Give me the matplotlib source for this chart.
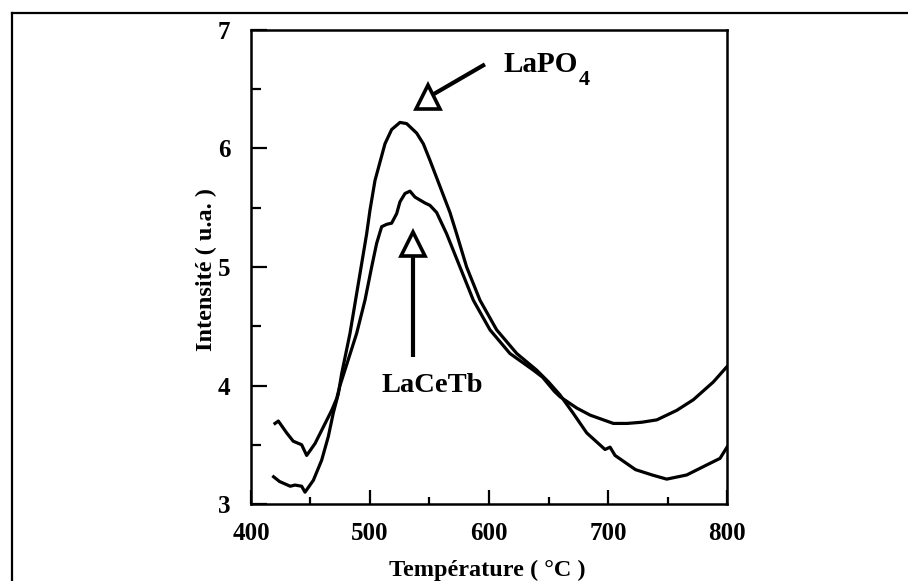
import matplotlib
matplotlib.use('Agg')
import matplotlib.pyplot as plt
from matplotlib.lines import Line2D
from matplotlib.ticker import MultipleLocator

# Glow curves
# temperature in degC, intensity in arbitrary units
temp_lapo4 = [419, 424, 433, 437, 442.6, 445.4, 452.4, 459.4, 465, 469.2,
              473.4, 476.2, 483.2, 490.2, 497.2, 500, 504.2, 512.6, 518.2,
              525.2, 530.8, 539.2, 544.8, 550.4, 558.8, 567.2, 572.8, 581.2,
              592.4, 606.4, 623.3, 640, 650, 659.7, 670.8, 682.1, 697.5,
              701.7, 705.9, 723.1, 737.1, 749.3, 766.1, 783, 794.1, 800]
int_lapo4 = [3.23, 3.19, 3.15, 3.16, 3.15, 3.10, 3.20, 3.37, 3.57, 3.77,
             3.93, 4.10, 4.44, 4.86, 5.28, 5.48, 5.73, 6.04, 6.16,
             6.22, 6.21, 6.13, 6.04, 5.90, 5.68, 5.46, 5.28, 5.00,
             4.72, 4.47, 4.27, 4.13, 4.03, 3.92, 3.765, 3.60, 3.46,
             3.48, 3.41, 3.29, 3.245, 3.21, 3.245, 3.33, 3.385, 3.48]

temp_lacetb = [420.2, 423, 430, 435.5, 442.6, 446.8, 453.8, 460.8, 467.8,
               472, 474.8, 481.8, 488.8, 495.8, 501.4, 505.6, 509.8, 514,
               518.2, 522.4, 525.2, 529.4, 533.6, 537.8, 542, 546.2, 550.4,
               556, 564.4, 575.6, 586.8, 600.8, 617.6, 637.2, 645, 655,
               659.7, 673.7, 685, 696.1, 704.5, 716, 728.3, 741, 757.7,
               771.7, 788.5, 800]
int_lacetb = [3.68, 3.70, 3.60, 3.53, 3.50, 3.41, 3.51, 3.65, 3.79,
              3.89, 4.00, 4.22, 4.44, 4.72, 5.00, 5.20, 5.34, 5.36,
              5.37, 5.45, 5.55, 5.62, 5.64, 5.59, 5.565, 5.54, 5.52,
              5.46, 5.28, 5.00, 4.72, 4.47, 4.27, 4.13, 4.07, 3.95,
              3.905, 3.81, 3.75, 3.71, 3.68, 3.68, 3.69, 3.71, 3.79,
              3.88, 4.03, 4.16]

x_ticks = [400, 500, 600, 700, 800]
y_ticks = [3, 4, 5, 6, 7]

plt.rcParams['font.family'] = ['Liberation Serif', 'DejaVu Serif']
plt.rcParams['font.weight'] = 'bold'

fig = plt.figure(figsize=(9.08, 5.81), dpi=100)
ax = fig.add_axes([0.2764, 0.1325, 0.5243, 0.8159])

ax.plot(temp_lapo4, int_lapo4, color='black', lw=2.3, solid_joinstyle='round')
ax.plot(temp_lacetb, int_lacetb, color='black', lw=2.3, solid_joinstyle='round')

ax.set_xlim(x_ticks[0], x_ticks[-1])
ax.set_ylim(y_ticks[0], y_ticks[-1])
ax.set_xticks(x_ticks)
ax.set_yticks(y_ticks)
ax.xaxis.set_minor_locator(MultipleLocator(50))
ax.yaxis.set_minor_locator(MultipleLocator(0.5))
ax.tick_params(which='both', direction='in', width=1.6, labelsize=18)
ax.tick_params(axis='x', which='major', length=10, pad=13)
ax.tick_params(axis='x', which='minor', length=5)
ax.tick_params(axis='y', which='major', length=11.5, pad=15)
ax.tick_params(axis='y', which='minor', length=7.5)
for s in ax.spines.values():
    s.set_linewidth(1.8)

ax.set_xlabel('Température ( °C )', fontsize=17.5, fontweight='bold')
ax.set_ylabel('Intensité ( u.a. )', fontsize=17.5, fontweight='bold')
ax.xaxis.set_label_coords(0.496, -0.118)
ax.yaxis.set_label_coords(-0.072, 0.494)

# LaPO4 label, arrow pointing down-left onto the open triangle
ax.plot([596.6, 552], [6.71, 6.45], color='black', lw=3, solid_capstyle='butt')
ax.plot([548.7], [6.435], marker='^', ms=17, mfc='white', mec='black',
        mew=2.6, zorder=5)
ax.text(611.8, 6.646, 'LaPO', fontsize=21, fontweight='bold',
        ha='left', va='baseline')
ax.text(675.8, 6.536, '4', fontsize=16, fontweight='bold',
        ha='left', va='baseline')

# LaCeTb label, vertical arrow up to the open triangle
ax.plot([536.1, 536.1], [4.24, 5.15], color='black', lw=3, solid_capstyle='butt')
ax.plot([536.1], [5.19], marker='^', ms=17, mfc='white', mec='black',
        mew=2.6, zorder=5)
ax.text(552.5, 3.945, 'LaCeTb', fontsize=20.5, fontweight='bold',
        ha='center', va='baseline')

# remains of the page frame around the scanned figure
fig.add_artist(Line2D([0.0132, 1.0], [0.9776, 0.9776], transform=fig.transFigure,
                      color='black', lw=1.6))
fig.add_artist(Line2D([0.0132, 0.0132], [0.0, 0.9776], transform=fig.transFigure,
                      color='black', lw=1.6))

fig.savefig('out.png', dpi=100)
